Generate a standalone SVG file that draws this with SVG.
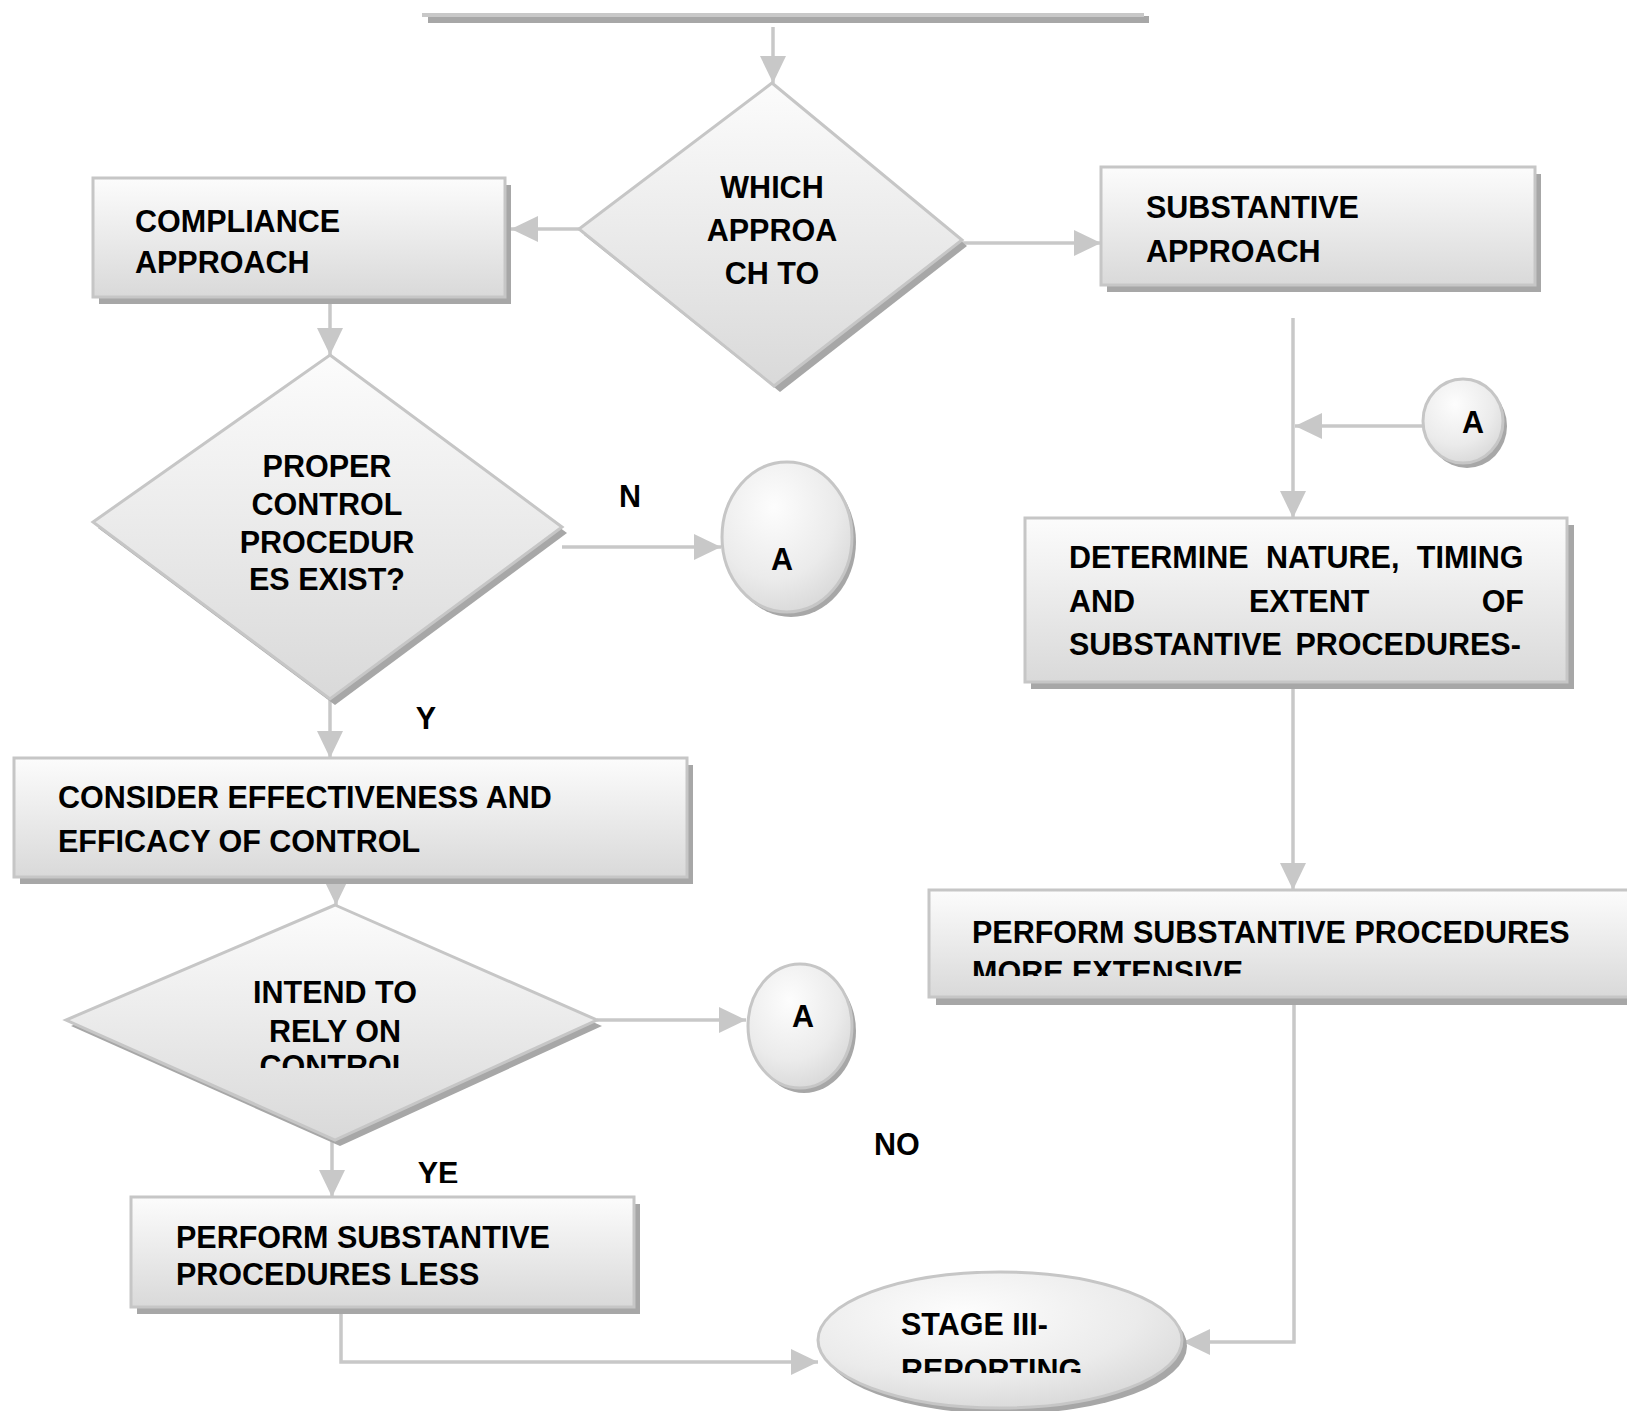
<svg xmlns="http://www.w3.org/2000/svg" width="1627" height="1411" viewBox="0 0 1627 1411">
  <style>
    .bg { fill: #ffffff; }
    .shape { fill: url(#gShape); stroke: #c6c6c6; stroke-width: 3; }
    .oval { fill: url(#gOval); stroke: #c6c6c6; stroke-width: 3; }
    .shadow { fill: #a7a7a7; }
    .conn { fill: none; stroke: #c8c8c8; stroke-width: 3.5; marker-end: url(#arrow); }
    .t { font-family: "Liberation Sans", Arial, sans-serif; font-weight: bold; font-size: 30.5px; fill: #000; }
    .mid { text-anchor: middle; }
  </style>
  <defs>
    <linearGradient id="gShape" x1="0" y1="0" x2="0" y2="1">
      <stop offset="0" stop-color="#fcfcfc"/>
      <stop offset="1" stop-color="#d9d9d9"/>
    </linearGradient>
    <radialGradient id="gOval" cx="0.4" cy="0.3" r="0.8">
      <stop offset="0" stop-color="#fdfdfd"/>
      <stop offset="0.6" stop-color="#ebebeb"/>
      <stop offset="1" stop-color="#d4d4d4"/>
    </radialGradient>
    <marker id="arrow" viewBox="0 0 27 26" markerWidth="27" markerHeight="26" refX="27" refY="13" markerUnits="userSpaceOnUse" orient="auto">
      <path d="M0,0 L27,13 L0,26 z" fill="#c8c8c8"/>
    </marker>
    <clipPath id="clipControl"><rect x="200" y="960" width="280" height="108"/></clipPath>
    <clipPath id="clipMore"><rect x="940" y="900" width="687" height="76"/></clipPath>
    <clipPath id="clipReporting"><rect x="880" y="1290" width="260" height="83"/></clipPath>
    <clipPath id="clipYe"><rect x="400" y="1150" width="80" height="33"/></clipPath>
  </defs>

  <rect class="bg" x="0" y="0" width="1627" height="1411"/>

  <!-- heading rule -->
  <g id="top-rule">
    <rect class="shadow" x="428" y="16" width="721" height="7"/>
    <rect x="422" y="13" width="722" height="4" fill="#c8c8c8"/>
  </g>

  <!-- connectors -->
  <g id="connectors">
    <path class="conn" d="M773,27 V83"/>
    <path class="conn" d="M579,229 H511"/>
    <path class="conn" d="M962,243 H1101"/>
    <path class="conn" d="M330,297 V355"/>
    <path class="conn" d="M562,547 H721"/>
    <path class="conn" d="M330,699 V758"/>
    <path class="conn" d="M336,877 V905"/>
    <path class="conn" d="M597,1020 H746"/>
    <path class="conn" d="M332,1140 V1197"/>
    <path class="conn" d="M341,1307 V1362 H818"/>
    <path class="conn" d="M1293,318 V518"/>
    <path class="conn" d="M1423,426 H1295"/>
    <path class="conn" d="M1293,682 V890"/>
    <path class="conn" d="M1294,997 V1342 H1183"/>
  </g>

  <!-- decision: which approach -->
  <g id="which-approach">
    <polygon class="shadow" points="777,89 967,246 780,392 584,235"/>
    <polygon class="shape" points="772,83 962,240 774,386 579,229"/>
    <text class="t mid" x="772" y="198">WHICH</text>
    <text class="t mid" x="772" y="241">APPROA</text>
    <text class="t mid" x="772" y="284">CH TO</text>
  </g>

  <!-- compliance approach -->
  <g id="compliance-approach">
    <rect class="shadow" x="99" y="185" width="412" height="119"/>
    <rect class="shape" x="93" y="178" width="412" height="119"/>
    <text class="t" x="135" y="232">COMPLIANCE</text>
    <text class="t" x="135" y="273">APPROACH</text>
  </g>

  <!-- substantive approach -->
  <g id="substantive-approach">
    <rect class="shadow" x="1107" y="174" width="434" height="118"/>
    <rect class="shape" x="1101" y="167" width="434" height="118"/>
    <text class="t" x="1146" y="218">SUBSTANTIVE</text>
    <text class="t" x="1146" y="262">APPROACH</text>
  </g>

  <!-- decision: proper control procedures -->
  <g id="proper-control">
    <polygon class="shadow" points="335,361 567,533 335,705 98,528"/>
    <polygon class="shape" points="330,355 562,527 330,699 93,522"/>
    <text class="t mid" x="327" y="477">PROPER</text>
    <text class="t mid" x="327" y="515">CONTROL</text>
    <text class="t mid" x="327" y="553">PROCEDUR</text>
    <text class="t mid" x="327" y="590">ES EXIST?</text>
  </g>

  <text id="label-n" class="t mid" x="630" y="507">N</text>

  <!-- connector A (from control check) -->
  <g id="connector-a1">
    <ellipse class="shadow" cx="791" cy="542" rx="65" ry="75"/>
    <ellipse class="oval" cx="787" cy="537" rx="65" ry="75"/>
    <text class="t mid" x="782" y="570">A</text>
  </g>

  <text id="label-y" class="t mid" x="426" y="729">Y</text>

  <!-- consider effectiveness -->
  <g id="consider-effectiveness">
    <rect class="shadow" x="20" y="765" width="673" height="119"/>
    <rect class="shape" x="14" y="758" width="673" height="119"/>
    <text class="t" x="58" y="808">CONSIDER EFFECTIVENESS AND</text>
    <text class="t" x="58" y="852">EFFICACY OF CONTROL</text>
  </g>

  <!-- decision: intend to rely on control -->
  <g id="intend-to-rely">
    <polygon class="shadow" points="340,911 602,1026 340,1146 71,1026"/>
    <polygon class="shape" points="335,905 597,1020 335,1140 66,1020"/>
    <g clip-path="url(#clipControl)">
      <text class="t mid" x="335" y="1003">INTEND TO</text>
      <text class="t mid" x="335" y="1042">RELY ON</text>
      <text class="t mid" x="335" y="1077">CONTROL</text>
    </g>
  </g>

  <!-- connector A (from reliance check) -->
  <g id="connector-a2">
    <ellipse class="shadow" cx="804" cy="1031" rx="52" ry="62"/>
    <ellipse class="oval" cx="800" cy="1026" rx="52" ry="62"/>
    <text class="t mid" x="803" y="1027">A</text>
  </g>

  <text id="label-no" class="t" x="874" y="1155">NO</text>
  <text id="label-ye" class="t mid" x="438" y="1184" clip-path="url(#clipYe)">YE</text>

  <!-- perform substantive procedures less -->
  <g id="perform-less">
    <rect class="shadow" x="137" y="1204" width="503" height="110"/>
    <rect class="shape" x="131" y="1197" width="503" height="110"/>
    <text class="t" x="176" y="1248">PERFORM SUBSTANTIVE</text>
    <text class="t" x="176" y="1285">PROCEDURES LESS</text>
  </g>

  <!-- stage III reporting -->
  <g id="stage-reporting">
    <ellipse class="shadow" cx="1005" cy="1346" rx="182" ry="68"/>
    <ellipse class="oval" cx="1000" cy="1340" rx="182" ry="68"/>
    <text class="t" x="901" y="1335">STAGE III-</text>
    <text class="t" x="901" y="1381" clip-path="url(#clipReporting)">REPORTING</text>
  </g>

  <!-- connector A (into substantive path) -->
  <g id="connector-a3">
    <ellipse class="shadow" cx="1467" cy="426" rx="40" ry="42"/>
    <ellipse class="oval" cx="1463" cy="421" rx="40" ry="42"/>
    <text class="t mid" x="1473" y="433">A</text>
  </g>

  <!-- determine nature, timing and extent -->
  <g id="determine-nature">
    <rect class="shadow" x="1031" y="525" width="543" height="164"/>
    <rect class="shape" x="1025" y="518" width="542" height="164"/>
    <text class="t" x="1069" y="568" word-spacing="9">DETERMINE NATURE, TIMING</text>
    <text class="t" x="1069" y="612">AND</text>
    <text class="t" x="1249" y="612">EXTENT</text>
    <text class="t" x="1524" y="612" text-anchor="end">OF</text>
    <text class="t" x="1069" y="655" word-spacing="5">SUBSTANTIVE PROCEDURES-</text>
  </g>

  <!-- perform substantive procedures more extensive -->
  <g id="perform-more">
    <rect class="shadow" x="936" y="897" width="700" height="108"/>
    <rect class="shape" x="929" y="890" width="710" height="107"/>
    <text class="t" x="972" y="943">PERFORM SUBSTANTIVE PROCEDURES</text>
    <text class="t" x="972" y="983" clip-path="url(#clipMore)">MORE EXTENSIVE</text>
  </g>
</svg>
